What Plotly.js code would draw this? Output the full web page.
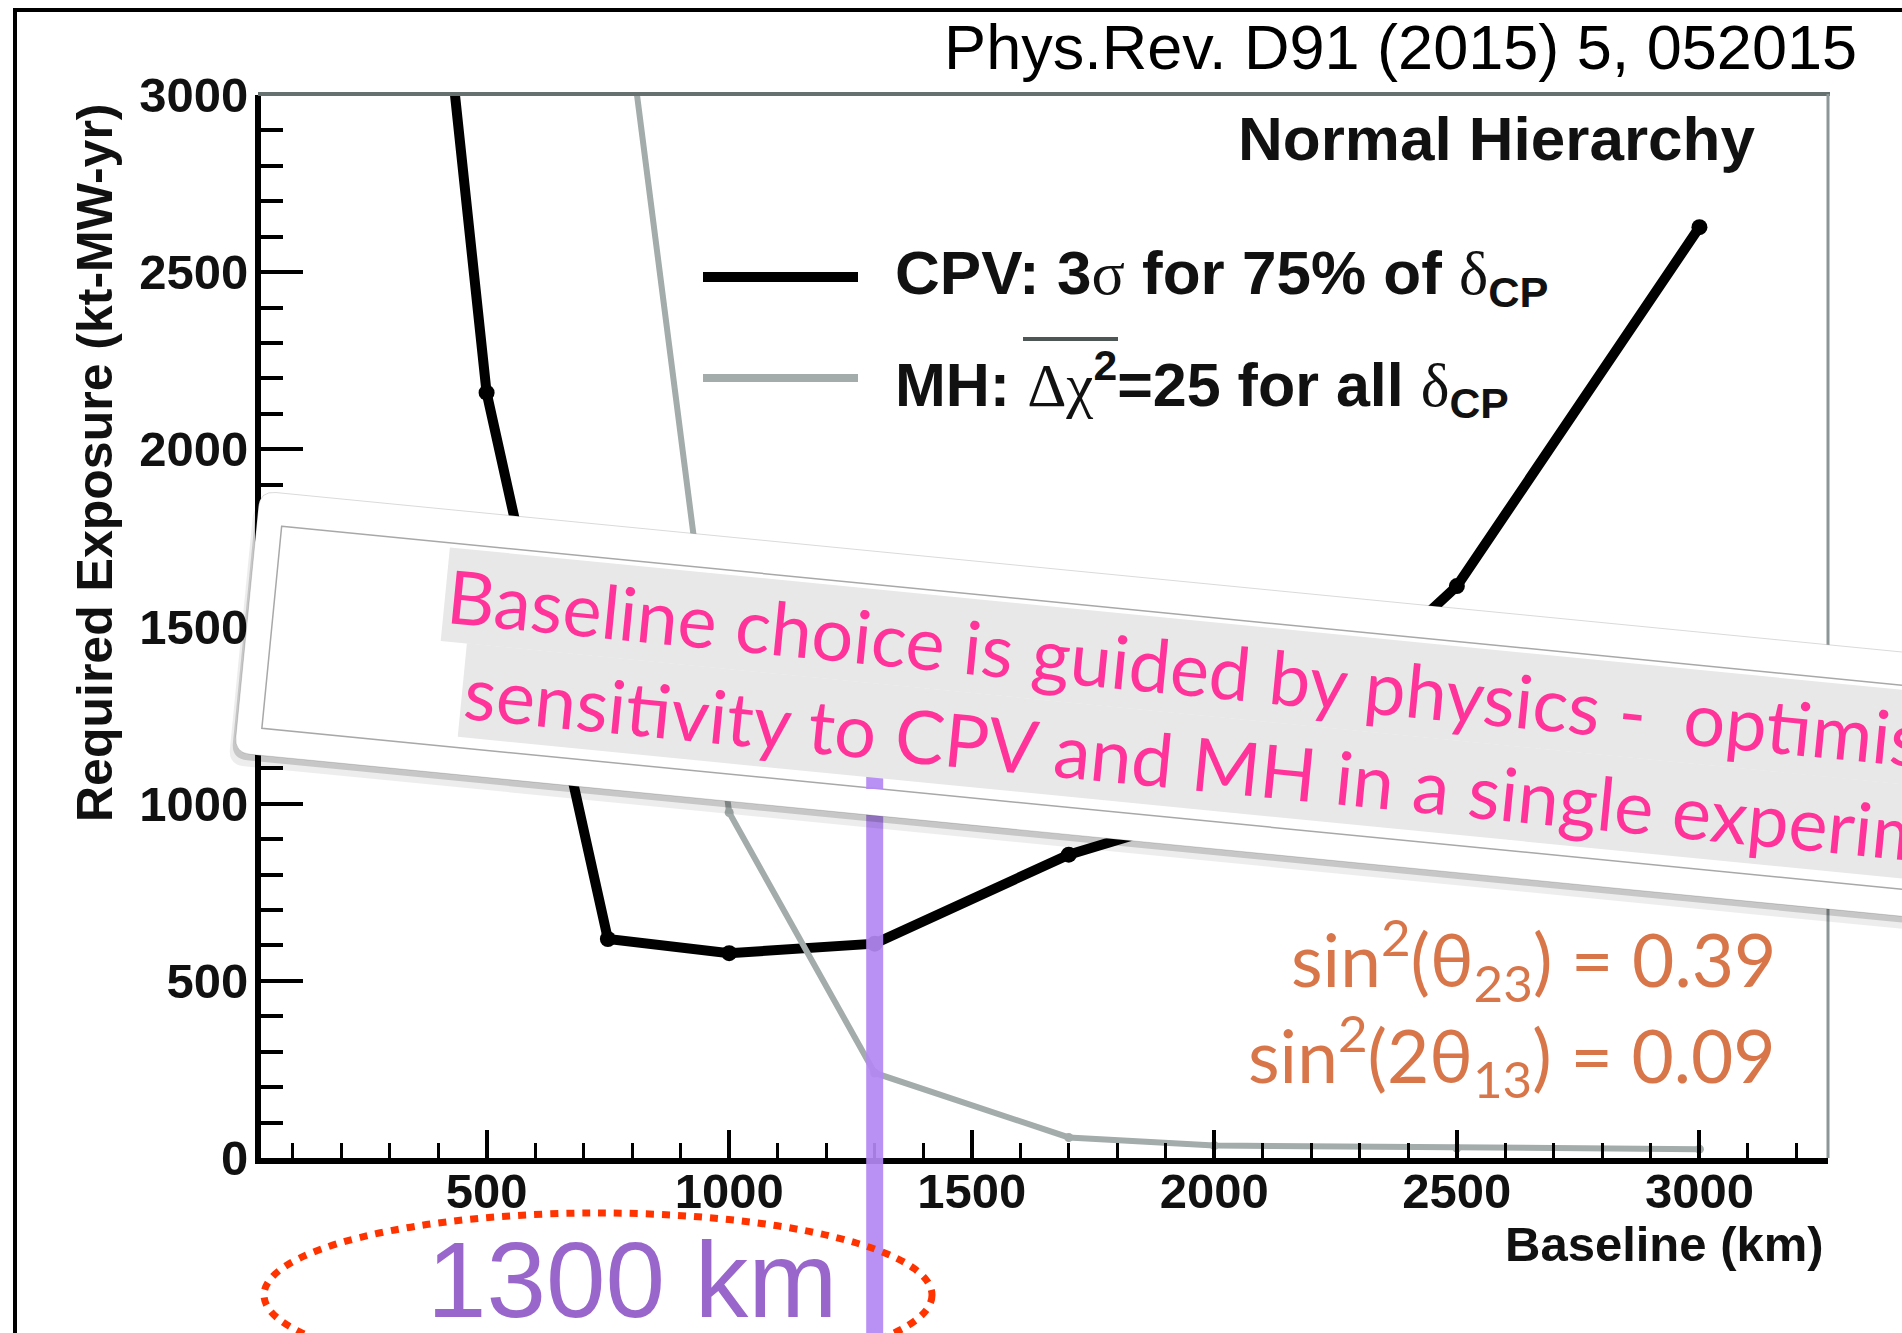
<!DOCTYPE html>
<html>
<head>
<meta charset="utf-8">
<script src="https://cdn.plot.ly/plotly-3.0.1.min.js"></script>
<style>
html, body { margin: 0; padding: 0; overflow: hidden; background: #ffffff; }
#chart { width: 1902px; height: 1333px; }
</style>
</head>
<body>
<div id="chart"></div>
<script>
// ---- data ----
const baselineCPV = [300, 500, 750, 1000, 1300, 1700, 2000, 2500, 3000];
const exposureCPV = [4740, 2160, 618, 578, 605, 856, 980, 1614, 2627];
const baselineMH = [750, 1000, 1300, 1700, 2000, 2500, 3000];
const exposureMH = [3640, 975, 240, 58, 35, 28, 25];
const chosenBaseline = 1300;
const xTickVals = [500, 1000, 1500, 2000, 2500, 3000];
const yTickVals = [0, 500, 1000, 1500, 2000, 2500, 3000];

const titleText = 'Phys.Rev. D91 (2015) 5, 052015';
const hierarchyText = 'Normal Hierarchy';
const serif = (s) => '<span style="font-family:\'Liberation Serif\',\'DejaVu Serif\',serif;font-weight:normal">' + s + '</span>';
const legendCPV = '<b>CPV: 3</b>' + serif('σ') + '<b> for 75% of </b>' + serif('δ') + '<sub><b>CP</b></sub>';
const legendMH = '<b>MH: </b>' + serif('Δχ') + '<sup><b>2</b></sup><b>=25 for all </b>' + serif('δ') + '<sub><b>CP</b></sub>';
const paramLines = ['sin<sup>2</sup>(θ<sub>23</sub>) = 0.39', 'sin<sup>2</sup>(2θ<sub>13</sub>) = 0.09'];
const bannerLines = ['Baseline choice is guided by physics -  optimising', 'sensitivity to CPV and MH in a single experiment'];
const baselineLabel = '1300 km';
const xTitle = 'Baseline (km)';
const yTitle = 'Required Exposure (kt-MW-yr)';

// ---- geometry helpers (pixel -> paper) ----
const W = 1902, H = 1333;
const L = 261, R = 1828, T = 95, B = 1158;
const px = (X) => (X - L) / (R - L);
const py = (Y) => (B - Y) / (B - T);
const P = (X, Y) => px(X).toFixed(5) + ',' + py(Y).toFixed(5);

const ROOT = 'Liberation Sans, Arial, Helvetica, sans-serif';
const GILL = 'Lato, Open Sans, sans-serif';

function rotRectPath(ox, oy, len, h, angDeg, r) {
  const a = angDeg * Math.PI / 180;
  const u = [Math.cos(a), Math.sin(a)], v = [-Math.sin(a), Math.cos(a)];
  const add = (p, d, k) => [p[0] + d[0] * k, p[1] + d[1] * k];
  const TL = [ox, oy], TR = add(TL, u, len), BR = add(TR, v, h), BL = add(TL, v, h);
  const f = (p) => P(p[0], p[1]);
  if (!r) return 'M' + f(TL) + ' L' + f(TR) + ' L' + f(BR) + ' L' + f(BL) + ' Z';
  return 'M' + f(add(TL, u, r)) + ' L' + f(add(TR, u, -r)) + ' Q' + f(TR) + ' ' + f(add(TR, v, r)) +
    ' L' + f(add(BR, v, -r)) + ' Q' + f(BR) + ' ' + f(add(BR, u, -r)) +
    ' L' + f(add(BL, u, r)) + ' Q' + f(BL) + ' ' + f(add(BL, v, -r)) +
    ' L' + f(add(TL, v, r)) + ' Q' + f(TL) + ' ' + f(add(TL, u, r)) + ' Z';
}

const ANG = 5.6;
const bx = 260, by = 491, bLen = 1900, bH = 263;
const ca = Math.cos(ANG * Math.PI / 180), sa = Math.sin(ANG * Math.PI / 180);
const innerX = bx + 25 * ca - 33 * sa, innerY = by + 25 * sa + 33 * ca;
const PURPLE = '#b488f4';

const traces = [
  {
    x: baselineCPV, y: exposureCPV, type: 'scatter', mode: 'lines+markers',
    line: { color: '#000000', width: 10 },
    marker: { color: '#000000', size: 16 },
    cliponaxis: true, showlegend: false, hoverinfo: 'skip'
  },
  {
    x: baselineMH, y: exposureMH, type: 'scatter', mode: 'lines+markers',
    line: { color: '#a3abab', width: 6 },
    marker: { color: '#a3abab', size: 9 },
    cliponaxis: true, showlegend: false, hoverinfo: 'skip'
  }
];

const shapes = [
  // frame top / right (gray)
  { type: 'line', xref: 'paper', yref: 'paper', x0: px(258), x1: px(1830), y0: py(94), y1: py(94),
    line: { color: '#66706f', width: 4 }, layer: 'above' },
  { type: 'line', xref: 'paper', yref: 'paper', x0: px(1828), x1: px(1828), y0: py(94), y1: py(1158),
    line: { color: '#8c9696', width: 3 }, layer: 'above' },
  // legend samples
  { type: 'line', xref: 'paper', yref: 'paper', x0: px(703), x1: px(858), y0: py(277), y1: py(277),
    line: { color: '#000000', width: 10 }, layer: 'above' },
  { type: 'line', xref: 'paper', yref: 'paper', x0: px(703), x1: px(858), y0: py(378), y1: py(378),
    line: { color: '#a3abab', width: 8 }, layer: 'above' },
  // overline on delta chi
  { type: 'line', xref: 'paper', yref: 'paper', x0: px(1023), x1: px(1118), y0: py(339), y1: py(339),
    line: { color: '#4d5555', width: 4 }, layer: 'above' },
  // chosen baseline marker line (below the banner)
  { type: 'line', xref: 'x', yref: 'paper', x0: chosenBaseline, x1: chosenBaseline, y0: py(760), y1: py(1340),
    line: { color: PURPLE, width: 17 }, opacity: 0.92, layer: 'above' },
  // banner shadow + body
  { type: 'path', xref: 'paper', yref: 'paper', path: rotRectPath(bx - 6, by + 12, bLen, bH, ANG, 16),
    fillcolor: 'rgba(0,0,0,0.07)', line: { width: 0 }, layer: 'above' },
  { type: 'path', xref: 'paper', yref: 'paper', path: rotRectPath(bx - 3, by + 6, bLen, bH, ANG, 16),
    fillcolor: 'rgba(0,0,0,0.16)', line: { width: 0 }, layer: 'above' },
  { type: 'path', xref: 'paper', yref: 'paper', path: rotRectPath(bx, by, bLen, bH, ANG, 16),
    fillcolor: '#ffffff', line: { color: 'rgba(0,0,0,0.15)', width: 1 }, layer: 'above' },
  { type: 'path', xref: 'paper', yref: 'paper', path: rotRectPath(innerX, innerY, bLen, 203, ANG, 0),
    fillcolor: '#ffffff', line: { color: '#a8a8a8', width: 1.5 }, layer: 'above' },
  // purple showing through the strip under the text box
  { type: 'line', xref: 'x', yref: 'paper', x0: chosenBaseline, x1: chosenBaseline, y0: py(776), y1: py(789),
    line: { color: PURPLE, width: 17 }, opacity: 0.92, layer: 'above' },
  // dotted ellipse
  { type: 'circle', xref: 'paper', yref: 'paper', x0: px(264), x1: px(932), y0: py(1213), y1: py(1377),
    line: { color: '#ff3300', width: 7, dash: '8px,8px' }, layer: 'above' },
  // outer slide frame
  { type: 'rect', xref: 'paper', yref: 'paper', x0: px(15), x1: px(1960), y0: py(10), y1: py(1400),
    line: { color: '#000000', width: 4 }, fillcolor: 'rgba(0,0,0,0)', layer: 'above' }
];

const ann = (o) => Object.assign({ xref: 'paper', yref: 'paper', showarrow: false }, o);
const annotations = [
  ann({ text: '<b>' + hierarchyText + '</b>', x: px(1757), y: py(138), xanchor: 'right', yanchor: 'middle',
    font: { family: ROOT, size: 62, color: '#111111' } }),
  ann({ text: legendCPV, x: px(893), y: py(277), xanchor: 'left', yanchor: 'middle',
    font: { family: ROOT, size: 62, color: '#111111' } }),
  ann({ text: legendMH, x: px(893), y: py(384), xanchor: 'left', yanchor: 'middle',
    font: { family: ROOT, size: 61, color: '#111111' } }),
  ann({ text: paramLines[0], x: px(1777), y: py(959), xanchor: 'right', yanchor: 'middle', borderpad: 0,
    font: { family: GILL, size: 73, color: '#d8764a' } }),
  ann({ text: paramLines[1], x: px(1777), y: py(1055), xanchor: 'right', yanchor: 'middle', borderpad: 0,
    font: { family: GILL, size: 73, color: '#d8764a' } }),
  ann({ text: '<b>' + yTitle + '</b>', x: px(95), y: py(463), xanchor: 'center', yanchor: 'middle', textangle: -90,
    font: { family: ROOT, size: 50, color: '#111111' } }),
  ann({ text: '<b>' + xTitle + '</b>', x: px(1826), y: py(1244), xanchor: 'right', yanchor: 'middle',
    font: { family: ROOT, size: 49, color: '#111111' } }),
  ann({ text: baselineLabel, x: px(632), y: py(1280), xanchor: 'center', yanchor: 'middle',
    font: { family: ROOT, size: 107, color: '#9966cc' } }),
  ann({ text: bannerLines[0], x: px(440), y: py(547), xanchor: 'left', yanchor: 'top', textangle: ANG,
    bgcolor: '#e8e8e8', borderpad: 2, font: { family: GILL, size: 74, color: '#ff3399' } }),
  ann({ text: bannerLines[1], x: px(457), y: py(643), xanchor: 'left', yanchor: 'top', textangle: ANG,
    bgcolor: '#e8e8e8', borderpad: 2, font: { family: GILL, size: 74, color: '#ff3399' } })
];

const axisFont = { family: ROOT, weight: 'bold', color: '#111111' };
const layout = {
  width: W, height: H, autosize: false,
  margin: { l: L, r: W - R, t: T, b: H - B, pad: 0 },
  paper_bgcolor: '#ffffff', plot_bgcolor: '#ffffff',
  showlegend: false,
  title: { text: titleText, xref: 'container', yref: 'container', x: 1857 / W, xanchor: 'right',
    y: 1 - 47 / H, yanchor: 'middle', font: { family: ROOT, size: 63, color: '#000000' } },
  xaxis: {
    range: [35, 3265], tickmode: 'array', tickvals: xTickVals, ticktext: xTickVals.map(String),
    ticks: 'inside', ticklen: 28, tickwidth: 4, tickcolor: '#000000',
    minor: { dtick: 100, tick0: 0, ticks: 'inside', ticklen: 15, tickwidth: 3, tickcolor: '#000000', showgrid: false },
    showline: true, linewidth: 6, linecolor: '#000000', showgrid: false, zeroline: false,
    tickfont: Object.assign({ size: 49 }, axisFont), ticklabelstandoff: -15
  },
  yaxis: {
    range: [0, 3000], tickmode: 'array', tickvals: yTickVals, ticktext: yTickVals.map(String),
    ticks: 'inside', ticklen: 42, tickwidth: 4, tickcolor: '#000000',
    minor: { dtick: 100, tick0: 0, ticks: 'inside', ticklen: 22, tickwidth: 4, tickcolor: '#000000', showgrid: false },
    showline: true, linewidth: 6, linecolor: '#000000', showgrid: false, zeroline: false,
    tickfont: Object.assign({ size: 49 }, axisFont), ticklabelstandoff: -3
  },
  shapes: shapes,
  annotations: annotations
};

Plotly.newPlot('chart', traces, layout, { displayModeBar: false, staticPlot: true });
</script>
</body>
</html>
